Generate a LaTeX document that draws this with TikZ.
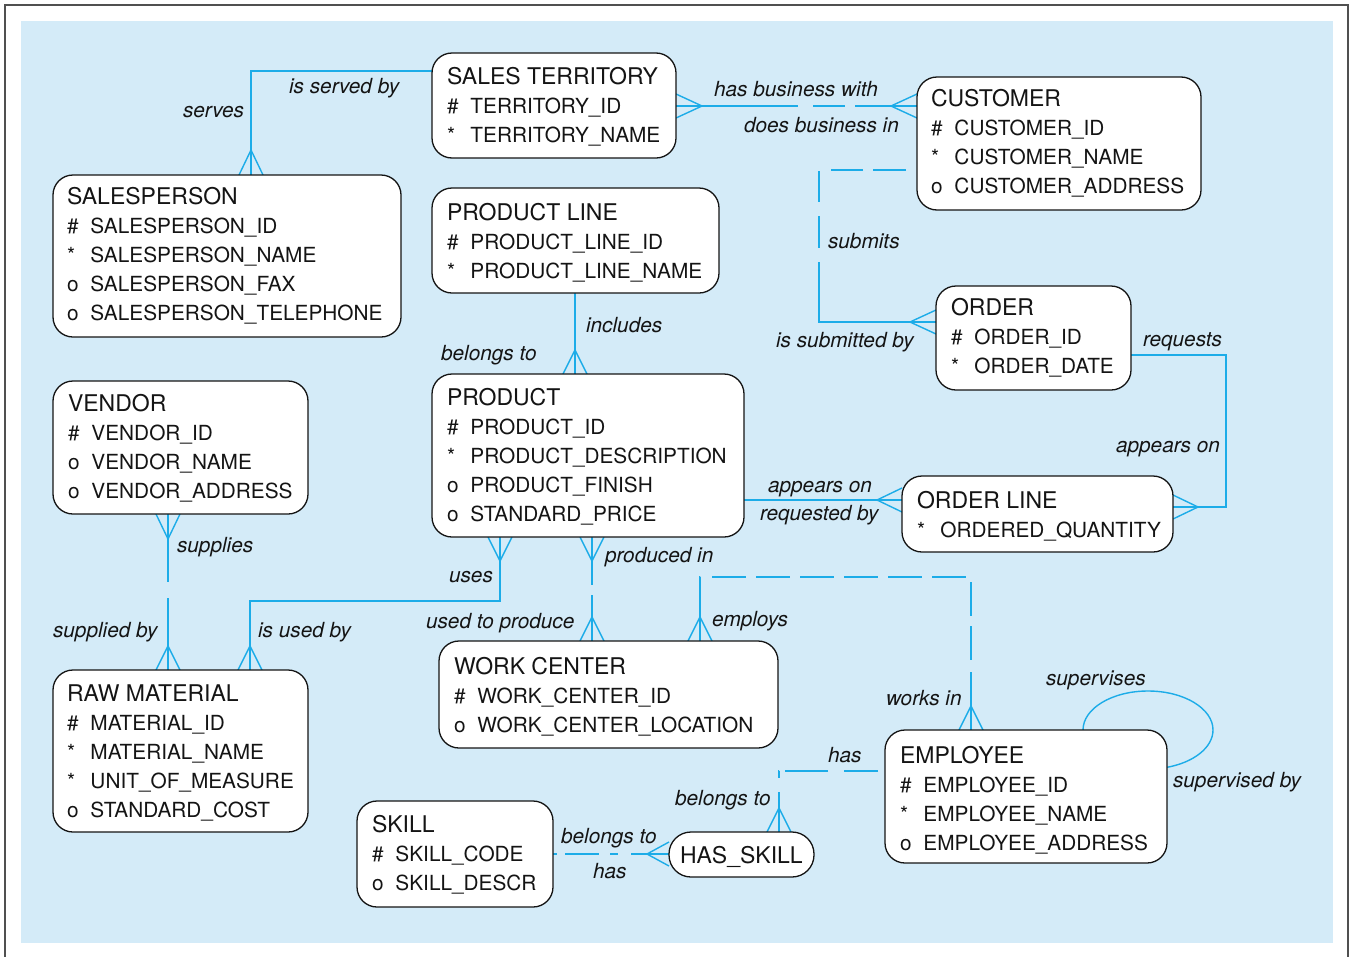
\documentclass[tikz,border=0pt]{standalone}
\usepackage{fontspec}
\setmainfont{TeX Gyre Heros}
\pgfdeclarelayer{bg}
\pgfdeclarelayer{lines}
\pgfsetlayers{bg,lines,main}
\definecolor{bgblue}{RGB}{212,235,248}
\definecolor{relblue}{RGB}{28,172,232}
\definecolor{framegray}{RGB}{80,80,80}
\definecolor{ink}{RGB}{20,20,20}
\newcommand{\ttl}[1]{{\fontsize{23}{29.2}\selectfont #1}}
\newcommand{\att}[2]{\makebox[23.5pt][l]{#1}#2}
\begin{document}
\begin{tikzpicture}[x=1pt,y=-1pt,
  ebox/.style={draw=ink, line width=1.3pt, fill=white, rounded corners=20pt, anchor=north west, inner sep=0pt, outer sep=0pt},
  etext/.style={anchor=base west, inner sep=0pt, outer sep=0pt, text=ink, font=\fontsize{20.8}{29.2}\selectfont},
  lbl/.style={anchor=base west, inner sep=0pt, outer sep=0pt, text=ink, font=\fontsize{20.8}{25}\selectfont\itshape},
  rel/.style={draw=relblue, line width=1.4pt},
]
\useasboundingbox (0,0) rectangle (1352,956);
\begin{pgfonlayer}{bg}
\fill[bgblue] (21,21) rectangle (1333,943);
\draw[framegray, line width=1.6pt] (5,962) -- (5,5) -- (1348,5) -- (1348,962);
\end{pgfonlayer}

% ---------- entities ----------
\node[ebox, minimum width=244pt, minimum height=105pt] (st) at (432,53) {};
\node[etext] (stt) at (447,84) {\begin{tabular}[t]{@{}l@{}}\ttl{SALES TERRITORY}\\\att{\#}{TERRITORY\_ID}\\\att{*}{TERRITORY\_NAME}\end{tabular}};

\node[ebox, minimum width=284pt, minimum height=133pt] (cust) at (917,77) {};
\node[etext] (custt) at (931,106) {\begin{tabular}[t]{@{}l@{}}\ttl{CUSTOMER}\\\att{\#}{CUSTOMER\_ID}\\\att{*}{CUSTOMER\_NAME}\\\att{o}{CUSTOMER\_ADDRESS}\end{tabular}};

\node[ebox, minimum width=348pt, minimum height=162pt] (sp) at (53,175) {};
\node[etext] (spt) at (67,204) {\begin{tabular}[t]{@{}l@{}}\ttl{SALESPERSON}\\\att{\#}{SALESPERSON\_ID}\\\att{*}{SALESPERSON\_NAME}\\\att{o}{SALESPERSON\_FAX}\\\att{o}{SALESPERSON\_TELEPHONE}\end{tabular}};

\node[ebox, minimum width=287pt, minimum height=105pt] (pl) at (432,188) {};
\node[etext] (plt) at (447,220) {\begin{tabular}[t]{@{}l@{}}\ttl{PRODUCT LINE}\\\att{\#}{PRODUCT\_LINE\_ID}\\\att{*}{PRODUCT\_LINE\_NAME}\end{tabular}};

\node[ebox, minimum width=195pt, minimum height=104pt] (ord) at (936,286) {};
\node[etext] (ordt) at (951,315) {\begin{tabular}[t]{@{}l@{}}\ttl{ORDER}\\\att{\#}{ORDER\_ID}\\\att{*}{ORDER\_DATE}\end{tabular}};

\node[ebox, minimum width=312pt, minimum height=163pt] (prod) at (432,374) {};
\node[etext] (prodt) at (447,405) {\begin{tabular}[t]{@{}l@{}}\ttl{PRODUCT}\\\att{\#}{PRODUCT\_ID}\\\att{*}{PRODUCT\_DESCRIPTION}\\\att{o}{PRODUCT\_FINISH}\\\att{o}{STANDARD\_PRICE}\end{tabular}};

\node[ebox, minimum width=255pt, minimum height=133pt] (ven) at (53,381) {};
\node[etext] (vent) at (68,411) {\begin{tabular}[t]{@{}l@{}}\ttl{VENDOR}\\\att{\#}{VENDOR\_ID}\\\att{o}{VENDOR\_NAME}\\\att{o}{VENDOR\_ADDRESS}\end{tabular}};

\node[ebox, minimum width=271pt, minimum height=76pt] (ol) at (902,476) {};
\node[etext] (olt) at (917,508) {\begin{tabular}[t]{@{}l@{}}\ttl{ORDER LINE}\\\att{*}{ORDERED\_QUANTITY}\end{tabular}};

\node[ebox, minimum width=339pt, minimum height=107pt] (wc) at (439,641) {};
\node[etext] (wct) at (454,674) {\begin{tabular}[t]{@{}l@{}}\ttl{WORK CENTER}\\\att{\#}{WORK\_CENTER\_ID}\\\att{o}{WORK\_CENTER\_LOCATION}\end{tabular}};

\node[ebox, minimum width=255pt, minimum height=162pt] (rm) at (53,670) {};
\node[etext] (rmt) at (67,701) {\begin{tabular}[t]{@{}l@{}}\ttl{RAW MATERIAL}\\\att{\#}{MATERIAL\_ID}\\\att{*}{MATERIAL\_NAME}\\\att{*}{UNIT\_OF\_MEASURE}\\\att{o}{STANDARD\_COST}\end{tabular}};

\node[ebox, minimum width=282pt, minimum height=133pt] (emp) at (885,730) {};
\node[etext] (empt) at (900,763) {\begin{tabular}[t]{@{}l@{}}\ttl{EMPLOYEE}\\\att{\#}{EMPLOYEE\_ID}\\\att{*}{EMPLOYEE\_NAME}\\\att{o}{EMPLOYEE\_ADDRESS}\end{tabular}};

\node[ebox, minimum width=196pt, minimum height=106pt] (skill) at (357,801) {};
\node[etext] (skillt) at (372,832) {\begin{tabular}[t]{@{}l@{}}\ttl{SKILL}\\\att{\#}{SKILL\_CODE}\\\att{o}{SKILL\_DESCR}\end{tabular}};

\node[ebox, rounded corners=22pt, minimum width=145pt, minimum height=45pt] (hs) at (669,832) {};
\node[etext] (hst) at (680,863) {\ttl{HAS\_SKILL}};

% ---------- connectors ----------
\begin{pgfonlayer}{lines}
% salesperson - sales territory
\draw[rel] (st.west |- 0,71) -| (251,0 |- sp.north);
\draw[rel] (239,0 |- sp.north) -- (251,150) -- (263,0 |- sp.north);
% sales territory - customer
\draw[rel, dash pattern=on 122pt off 15pt on 32pt off 10pt on 300pt] (st.east |- 0,106) -- (cust.west |- 0,106);
\draw[rel] (st.east |- 0,94) -- (702,106) -- (st.east |- 0,118);
\draw[rel] (cust.west |- 0,94) -- (891,106) -- (cust.west |- 0,118);
% customer - order
\draw[rel, dash pattern=on 0pt off 11pt on 33pt off 10pt on 32pt off 13pt on 31pt off 14pt on 32pt off 14pt on 600pt] (cust.west |- 0,170) -- (819,170) -- (819,322) -- (ord.west |- 0,322);
\draw[rel] (ord.west |- 0,310) -- (910,322) -- (ord.west |- 0,334);
% order - order line
\draw[rel] (ord.east |- 0,355) -- (1226,355) -- (1226,507) -- (ol.east |- 0,507);
\draw[rel] (ol.east |- 0,495) -- (1198,507) -- (ol.east |- 0,519);
% product - order line
\draw[rel] (prod.east |- 0,500) -- (ol.west |- 0,500);
\draw[rel] (ol.west |- 0,488) -- (877,500) -- (ol.west |- 0,512);
% product line - product
\draw[rel] (575,0 |- pl.south) -- (575,0 |- prod.north);
\draw[rel] (563,0 |- prod.north) -- (575,350) -- (587,0 |- prod.north);
% vendor - raw material
\draw[rel, dash pattern=on 68pt off 16pt on 300pt] (168,0 |- ven.south) -- (168,0 |- rm.north);
\draw[rel] (156,0 |- ven.south) -- (168,539) -- (180,0 |- ven.south);
\draw[rel] (156,0 |- rm.north) -- (168,646) -- (180,0 |- rm.north);
% product - raw material
\draw[rel] (500,0 |- prod.south) -- (500,601) -- (250,601) -- (250,0 |- rm.north);
\draw[rel] (488,0 |- prod.south) -- (500,561) -- (512,0 |- prod.south);
\draw[rel] (238,0 |- rm.north) -- (250,646) -- (262,0 |- rm.north);
% product - work center
\draw[rel, dash pattern=on 48pt off 10pt on 300pt] (592,0 |- prod.south) -- (592,0 |- wc.north);
\draw[rel] (580,0 |- prod.south) -- (592,561) -- (604,0 |- prod.south);
\draw[rel] (580,0 |- wc.north) -- (592,617) -- (604,0 |- wc.north);
% work center - employee
\draw[rel, dash pattern=on 64pt off 12pt on 34pt off 10pt on 34pt off 10pt on 34pt off 10pt on 34pt off 10pt on 34pt off 10pt on 34pt off 10pt on 34pt off 10pt on 34pt off 12pt on 300pt] (700,0 |- wc.north) -- (700,577) -- (971,577) -- (971,0 |- emp.north);
\draw[rel] (688,0 |- wc.north) -- (700,617) -- (712,0 |- wc.north);
\draw[rel] (959,0 |- emp.north) -- (971,706) -- (983,0 |- emp.north);
% employee self loop
\draw[rel] (1083,0 |- emp.north) arc[start angle=180, end angle=434, x radius=65, y radius=39];
% employee - has_skill
\draw[rel, dash pattern=on 0pt off 7pt on 34pt off 16pt on 43pt off 6pt on 7pt off 14pt on 300pt] (emp.west |- 0,771) -- (779,771) -- (779,0 |- hs.north);
\draw[rel] (767,0 |- hs.north) -- (779,808) -- (791,0 |- hs.north);
% skill - has_skill
\draw[rel, dash pattern=on 4pt off 8pt on 34pt off 11pt on 8pt off 13pt on 300pt] (skill.east |- 0,854) -- (hs.west |- 0,854);
\draw[rel] (hs.west |- 0,842) -- (647,854) -- (hs.west |- 0,866);
\end{pgfonlayer}

% ---------- labels ----------
\node[lbl] (l1) at (289,93) {is served by};
\node[lbl] (l2) at (183,117) {serves};
\node[lbl] (l3) at (714,96) {has business with};
\node[lbl] (l4) at (744,132) {does business in};
\node[lbl] (l5) at (828,248) {submits};
\node[lbl] (l6) at (776,347) {is submitted by};
\node[lbl] (l7) at (1143,346) {requests};
\node[lbl] (l8) at (1116,452) {appears on};
\node[lbl] (l9) at (586,332) {includes};
\node[lbl] (l10) at (441,360) {belongs to};
\node[lbl] (l11) at (768,492) {appears on};
\node[lbl] (l12) at (760,520) {requested by};
\node[lbl] (l13) at (177,552) {supplies};
\node[lbl] (l14) at (53,637) {supplied by};
\node[lbl] (l15) at (449,582) {uses};
\node[lbl] (l16) at (258,637) {is used by};
\node[lbl] (l17) at (605,562) {produced in};
\node[lbl] (l18) at (426,628) {used to produce};
\node[lbl] (l19) at (712,626) {employs};
\node[lbl] (l20) at (886,705) {works in};
\node[lbl] (l21) at (1046,685) {supervises};
\node[lbl] (l22) at (1173,787) {supervised by};
\node[lbl] (l23) at (828,762) {has};
\node[lbl] (l24) at (675,805) {belongs to};
\node[lbl] (l25) at (561,843) {belongs to};
\node[lbl] (l26) at (593,878) {has};
\end{tikzpicture}
\end{document}
